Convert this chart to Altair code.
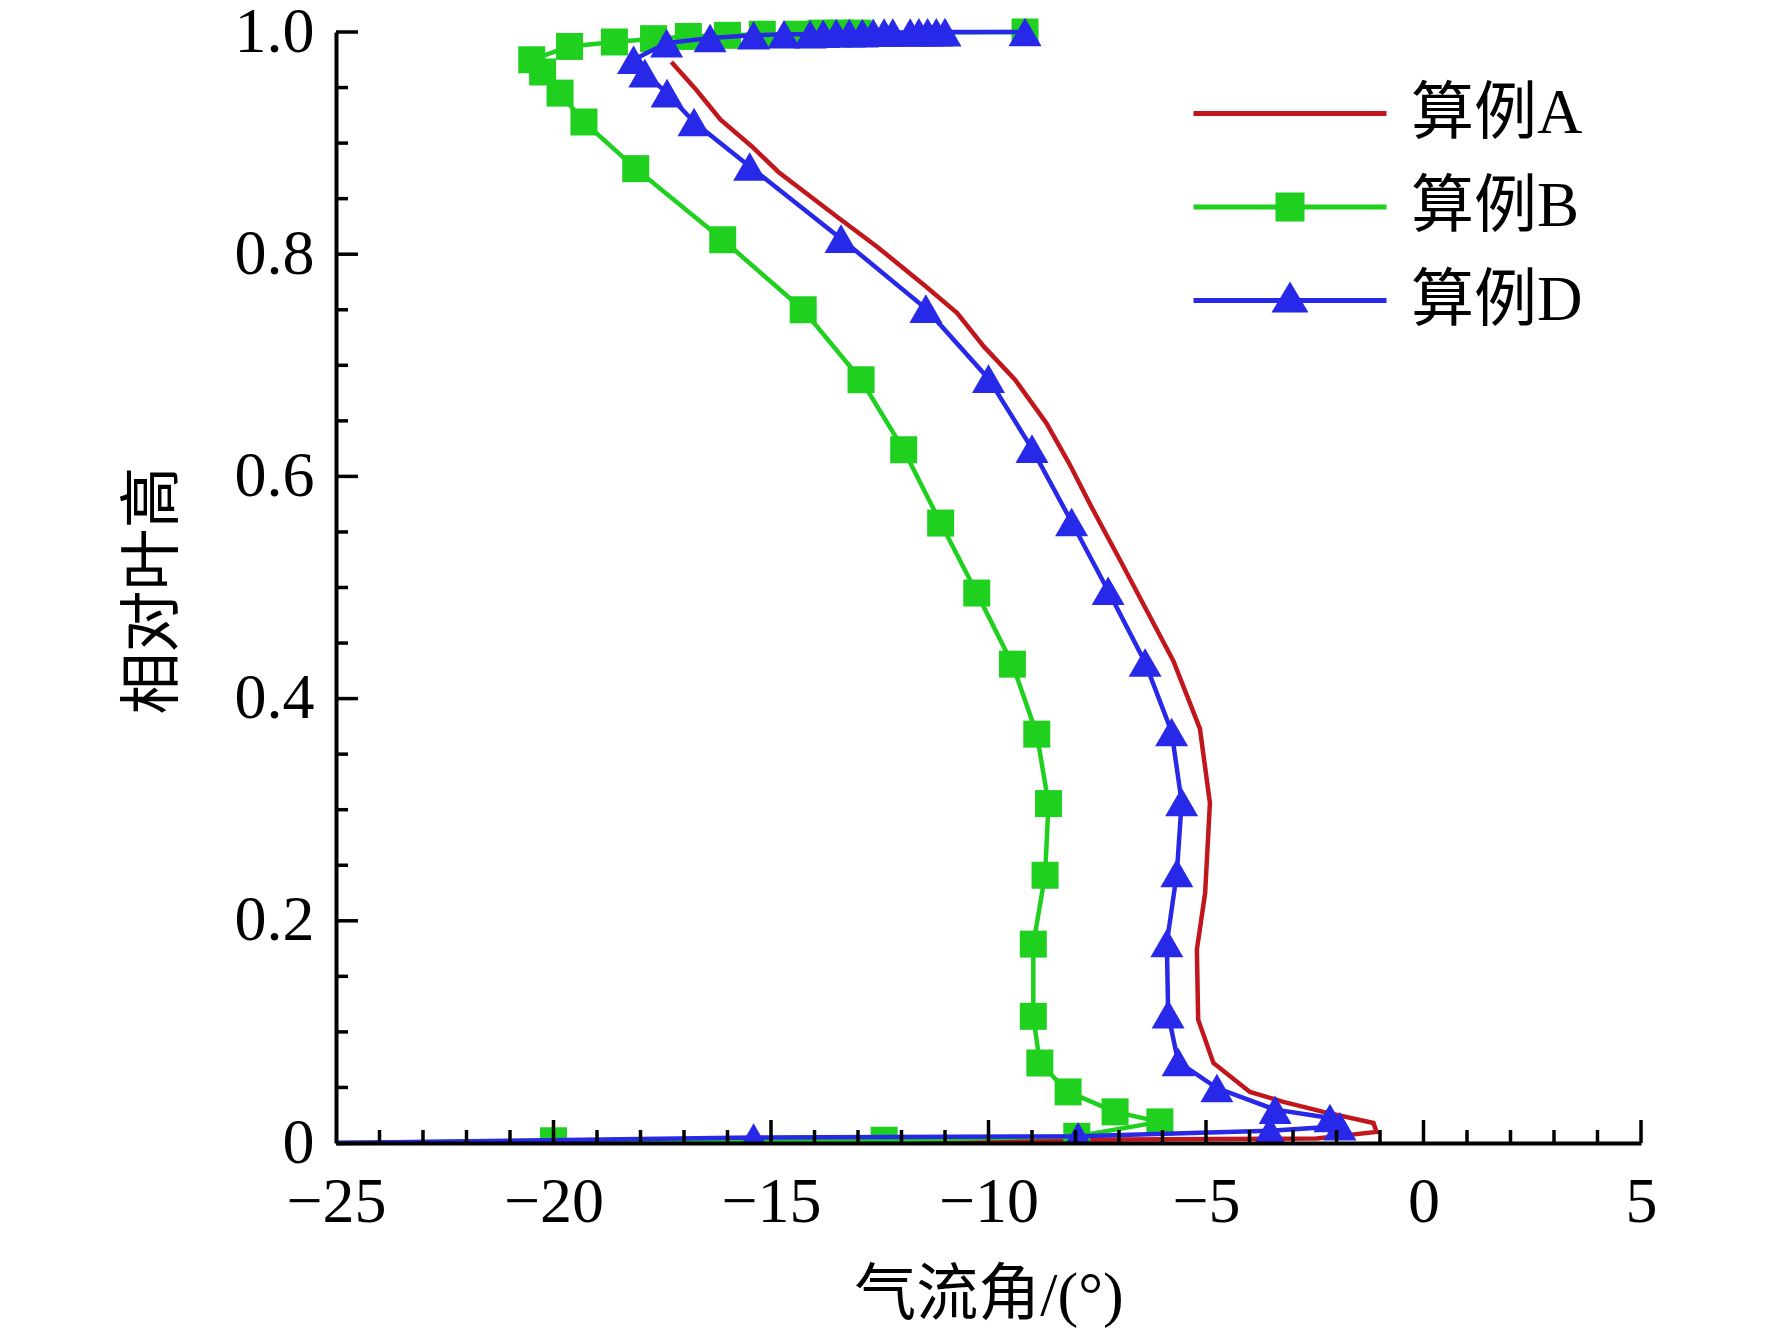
import altair as alt
import pandas as pd

# ---------------- data ----------------
series_names = ["算例A", "算例B", "算例D"]
series_colors = ["#C0161C", "#1FD01F", "#2828E8"]

A_x = [-25.0, -2.46, -1.08, -1.15, -2.30, -3.22, -3.99, -4.83, -5.18, -5.21, -5.02, -4.91,
       -5.14, -5.75, -6.67, -6.98, -7.64, -8.15, -8.67, -9.39, -10.11, -10.72, -11.44,
       -12.57, -13.49, -14.83, -15.44, -16.16, -16.72, -17.29]
A_y = [0.0, 0.004, 0.010, 0.018, 0.028, 0.037, 0.046, 0.072, 0.111, 0.174, 0.225, 0.306,
       0.373, 0.434, 0.502, 0.525, 0.573, 0.612, 0.648, 0.687, 0.717, 0.747, 0.771,
       0.807, 0.834, 0.874, 0.897, 0.921, 0.948, 0.973]

B_x = [-25.0, -20.0, -12.4, -7.97, -6.06, -7.09, -8.17, -8.82, -8.97, -8.97, -8.70, -8.62,
       -8.89, -9.45, -10.27, -11.10, -11.95, -12.93, -14.26, -16.11, -18.11, -19.30, -19.85,
       -20.25, -20.50, -19.63, -18.60, -17.70, -16.90, -16.00, -15.20, -14.40, -13.85,
       -13.40, -13.00, -9.16]
B_y = [0.0, 0.002, 0.0025, 0.006, 0.019, 0.028, 0.046, 0.072, 0.114, 0.179, 0.241, 0.3055,
       0.368, 0.431, 0.495, 0.558, 0.624, 0.687, 0.750, 0.813, 0.877, 0.919, 0.945,
       0.964, 0.975, 0.987, 0.991, 0.994, 0.996, 0.997, 0.998, 0.998, 0.999,
       0.999, 0.999, 1.0]

D_x = [-25.0, -15.4, -7.94, -3.53, -1.92, -2.15, -3.41, -4.75, -5.64, -5.87, -5.90, -5.67,
       -5.56, -5.79, -6.40, -7.25, -8.09, -9.00, -10.00, -11.44, -13.39, -15.49, -16.77,
       -17.39, -17.90, -18.16, -17.40, -16.40, -15.40, -14.70, -14.10, -13.80, -13.50,
       -13.20, -12.90, -12.65, -12.40, -12.20, -11.80, -11.60, -11.40, -11.20, -11.00, -9.16]
D_y = [0.0, 0.005, 0.006, 0.011, 0.015, 0.0225, 0.030, 0.0495, 0.073, 0.116, 0.180, 0.243,
       0.307, 0.370, 0.4325, 0.497, 0.559, 0.625, 0.688, 0.751, 0.814, 0.879, 0.919,
       0.945, 0.963, 0.975, 0.990, 0.9946, 0.997, 0.998, 0.998, 0.9985, 0.999,
       0.999, 0.999, 0.9993, 0.9995, 0.9995, 0.9996, 0.9997, 0.9998, 0.9998, 0.9999, 1.0]

x_label_values = [-25, -20, -15, -10, -5, 0, 5]
y_label_values = [0, 0.2, 0.4, 0.6, 0.8, 1.0]
x_major_ticks = [-20, -15, -10, -5, 0, 5]
x_minor_ticks = [v for v in range(-24, 5) if v % 5 != 0]
y_major_ticks = [0.2, 0.4, 0.6, 0.8, 1.0]
y_minor_ticks = [0.05, 0.1, 0.15, 0.25, 0.3, 0.35, 0.45, 0.5, 0.55, 0.65, 0.7, 0.75, 0.85, 0.9, 0.95]

# ---------------- build table ----------------
rows = []
for name, xs, ys in [("算例A", A_x, A_y), ("算例B", B_x, B_y), ("算例D", D_x, D_y)]:
    for i, (xv, yv) in enumerate(zip(xs, ys)):
        rows.append({"series": name, "x": xv, "y": yv, "idx": i})
df = pd.DataFrame(rows)
color_of = dict(zip(series_names, series_colors))

W, H = 1305, 1111
SERIF = "Liberation Serif, Times New Roman, Noto Sans CJK SC"

xscale = alt.Scale(domain=[-25, 5], nice=False, zero=False)
yscale = alt.Scale(domain=[0, 1], nice=False, zero=False)
cscale = alt.Scale(domain=series_names, range=series_colors)

x_axis = alt.Axis(values=x_label_values, title="气流角/(°)", ticks=False, grid=False,
                  domainColor="black", domainWidth=4, zindex=1,
                  labelFlush=False, labelOverlap=False,
                  labelFont=SERIF, labelFontSize=64, labelPadding=27, labelColor="black",
                  titleFont=SERIF, titleFontSize=62, titleFontWeight="normal", titleColor="black",
                  titleX=W / 2, titleY=152, titleAlign="center", titleBaseline="middle")
y_axis = alt.Axis(values=y_label_values, title="相对叶高", ticks=False, grid=False,
                  domainColor="black", domainWidth=4, zindex=1,
                  labelFlush=False, labelOverlap=False,
                  labelExpr="datum.value == 0 ? '0' : format(datum.value, '.1f')",
                  labelFont=SERIF, labelFontSize=64, labelPadding=22, labelColor="black",
                  titleFont=SERIF, titleFontSize=62, titleFontWeight="normal", titleColor="black",
                  titleAngle=270, titleX=-183, titleY=558, titleAlign="center", titleBaseline="middle")

base = alt.Chart(df)


def X():
    return alt.X("x:Q", scale=xscale, axis=x_axis)


def Y():
    return alt.Y("y:Q", scale=yscale, axis=y_axis)


def line(name):
    return base.transform_filter(alt.datum.series == name).mark_line(
        strokeWidth=4.5, color=color_of[name]).encode(
        x=X(), y=Y(), order=alt.Order("idx:Q"))


def markers(name, shape, size, low):
    cond = (alt.datum.series == name) & (alt.datum.x > -25)
    cond = cond & ((alt.datum.y < 0.012) if low else (alt.datum.y >= 0.012))
    return base.transform_filter(cond).mark_point(
        shape=shape, filled=True, size=size, opacity=1, clip=low,
        color=color_of[name]).encode(x=X(), y=Y())


# legend symbols: line + marker as custom paths (unit = 20 px)
LINE = "M-4.825,-0.125H4.825V0.125H-4.825Z"
pathA = LINE
pathB = LINE + " M-0.725,-0.725H0.725V0.725H-0.725Z"
pathD = LINE + " M0,-0.95L0.925,0.6H-0.925Z"

leg_props = dict(title=None, orient="none", legendX=922.5, legendY=50, padding=0,
                 symbolSize=1600, symbolStrokeWidth=0, symbolOpacity=1,
                 labelFont=SERIF, labelFontSize=63, labelColor="black", labelOffset=89.5,
                 labelLimit=0, rowPadding=29.5)
legend_layer = base.mark_point(filled=True, opacity=0).encode(
    x=X(), y=Y(),
    color=alt.Color("series:N", scale=cscale, legend=alt.Legend(**leg_props)),
    shape=alt.Shape("series:N", scale=alt.Scale(domain=series_names, range=[pathA, pathB, pathD]),
                    legend=alt.Legend(**leg_props)))

# inward ticks
xmaj = alt.Chart(pd.DataFrame({"x": x_major_ticks})).mark_rule(color="black", strokeWidth=3.5).encode(
    x=X(), y=alt.value(H), y2=alt.value(H - 23))
xmin = alt.Chart(pd.DataFrame({"x": x_minor_ticks})).mark_rule(color="black", strokeWidth=3.5).encode(
    x=X(), y=alt.value(H), y2=alt.value(H - 13))
ymaj = alt.Chart(pd.DataFrame({"y": y_major_ticks})).mark_rule(color="black", strokeWidth=3.5).encode(
    y=Y(), x=alt.value(0), x2=alt.value(22))
ymin = alt.Chart(pd.DataFrame({"y": y_minor_ticks})).mark_rule(color="black", strokeWidth=3.5).encode(
    y=Y(), x=alt.value(0), x2=alt.value(12))

chart = alt.layer(
    line("算例A"),
    line("算例B"),
    markers("算例B", "square", 729, False),
    markers("算例B", "square", 729, True),
    line("算例D"),
    markers("算例D", "triangle-up", 1089, False),
    markers("算例D", "triangle-up", 1089, True),
    legend_layer,
    xmaj, xmin, ymaj, ymin,
).properties(
    width=W, height=H,
    autosize=alt.AutoSizeParams(type="none"),
    padding={"left": 328, "top": 24, "right": 100, "bottom": 190},
).configure(background="white").configure_view(stroke=None, strokeWidth=0)

chart.save("out.html", embed_options={"renderer": "svg", "actions": False})
